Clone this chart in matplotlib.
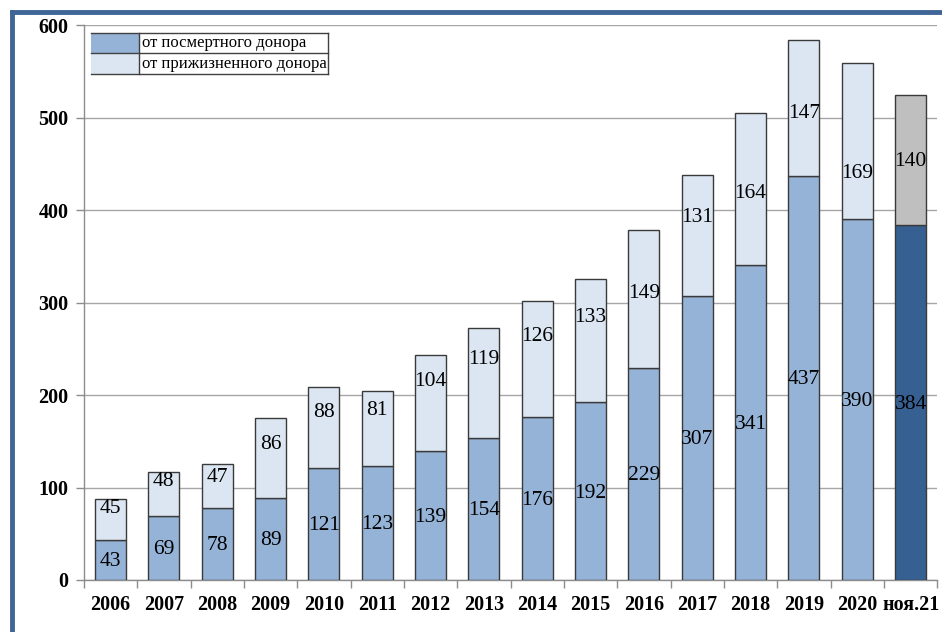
import matplotlib.pyplot as plt
import matplotlib.patches as mpatches
from matplotlib.lines import Line2D
import numpy as np

# data
years = ['2006', '2007', '2008', '2009', '2010', '2011', '2012', '2013',
         '2014', '2015', '2016', '2017', '2018', '2019', '2020', 'ноя.21']
deceased = [43, 69, 78, 89, 121, 123, 139, 154, 176, 192, 229, 307, 341, 437, 390, 384]
living = [45, 48, 47, 86, 88, 81, 104, 119, 126, 133, 149, 131, 164, 147, 169, 140]

# where the upper value labels sit (moved by hand in the original chart)
lbl_hi_y = [77, 106, 111, 147, 181, 183, 215, 238, 263, 284, 310, 392, 418, 504, 440, 452]

c_lo = '#95b3d7'
c_hi = '#dce6f2'
c_lo_last = '#376092'
c_hi_last = '#bfbfbf'

plt.rcParams['font.family'] = ['Liberation Serif', 'DejaVu Serif']

fig = plt.figure(figsize=(9.42, 6.32), dpi=100)
ax = fig.add_axes([0.089, 0.0823, 0.906, 0.878])

x = np.arange(len(years))
cols_lo = [c_lo] * (len(years) - 1) + [c_lo_last]
cols_hi = [c_hi] * (len(years) - 1) + [c_hi_last]

ax.bar(x, deceased, width=0.58, color=cols_lo, edgecolor='#3a3a3a', linewidth=1.0, zorder=3)
ax.bar(x, living, width=0.58, bottom=deceased, color=cols_hi, edgecolor='#3a3a3a', linewidth=1.0, zorder=3)

for i in range(len(years)):
    ax.text(x[i], deceased[i] / 2 - 2, str(deceased[i]), ha='center', va='center', fontsize=15.5, zorder=4)
    ax.text(x[i], lbl_hi_y[i], str(living[i]), ha='center', va='center', fontsize=15.5, zorder=4)

ax.set_xlim(-0.5, len(years) - 0.5)
ax.set_ylim(0, 600)
ax.set_yticks(range(0, 601, 100))
ax.yaxis.grid(True, color='#a6a6a6', linewidth=1.0, zorder=0)
ax.set_axisbelow(True)

# category labels centred, tick marks between categories
ax.set_xticks(x)
ax.set_xticklabels(years, fontsize=14.5, fontweight='bold')
ax.tick_params(axis='x', length=0, pad=11)
ax.set_xticks(np.arange(-0.5, len(years), 1.0), minor=True)
ax.tick_params(axis='x', which='minor', length=6, color='#8c8c8c', width=1)
ax.tick_params(axis='y', length=6, color='#8c8c8c', width=1, pad=5)
for lab in ax.get_yticklabels():
    lab.set_fontsize(14.5)
    lab.set_fontweight('bold')

for s in ['top', 'right']:
    ax.spines[s].set_visible(False)
for s in ['left', 'bottom']:
    ax.spines[s].set_color('#8c8c8c')
    ax.spines[s].set_linewidth(1.0)

# table-like legend
lx0, lx1, lx2 = 0.0082, 0.0645, 0.286
ly0, ly1, ly2 = 0.9117, 0.9495, 0.9856
ax.add_patch(mpatches.Rectangle((lx0, ly1), lx1 - lx0, ly2 - ly1, transform=ax.transAxes,
                                facecolor=c_lo, edgecolor='none', zorder=5))
ax.add_patch(mpatches.Rectangle((lx0, ly0), lx1 - lx0, ly1 - ly0, transform=ax.transAxes,
                                facecolor=c_hi, edgecolor='none', zorder=5))
ax.add_patch(mpatches.Rectangle((lx1, ly0), lx2 - lx1, ly2 - ly0, transform=ax.transAxes,
                                facecolor='white', edgecolor='none', zorder=5))
for (xa, xb, ya, yb) in [(lx0, lx2, ly2, ly2), (lx0, lx2, ly1, ly1), (lx0, lx2, ly0, ly0),
                         (lx1, lx1, ly0, ly2), (lx2, lx2, ly0, ly2)]:
    ax.add_line(Line2D([xa, xb], [ya, yb], transform=ax.transAxes, color='#404040',
                       linewidth=1.0, zorder=6))
ax.text(lx1 + 0.004, (ly1 + ly2) / 2, 'от посмертного донора', transform=ax.transAxes,
        ha='left', va='center', fontsize=12, zorder=7)
ax.text(lx1 + 0.004, (ly0 + ly1) / 2, 'от прижизненного донора', transform=ax.transAxes,
        ha='left', va='center', fontsize=12, zorder=7)

# window frame on top and left edges
fig.add_artist(Line2D([12 / 942, 1], [1 - 12 / 632, 1 - 12 / 632], transform=fig.transFigure,
                      color='#3f6597', linewidth=3.5))
fig.add_artist(Line2D([12 / 942, 12 / 942], [0, 1 - 12 / 632], transform=fig.transFigure,
                      color='#3f6597', linewidth=3.5))

fig.savefig('out.png', dpi=100)
